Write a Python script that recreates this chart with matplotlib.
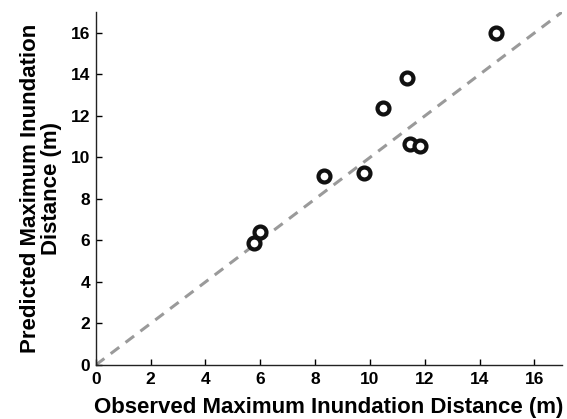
import numpy as np
import matplotlib
matplotlib.use("Agg")
import matplotlib.pyplot as plt

plt.rcParams['font.family'] = ['Liberation Sans', 'DejaVu Sans']
plt.rcParams['font.weight'] = 'bold'

# observed vs predicted inundation distance (m)
observed = [5.78, 5.98, 8.34, 9.77, 10.47, 11.35, 11.47, 11.84, 14.61]
predicted = [5.9, 6.43, 9.1, 9.25, 12.36, 13.83, 10.66, 10.53, 16.0]
ticks = [0, 2, 4, 6, 8, 10, 12, 14, 16]

fig = plt.figure(figsize=(5.67, 4.19), dpi=100)
ax = fig.add_axes([0.169, 0.129, 0.822, 0.842])

# 1:1 line
ax.plot([0, 17], [0, 17], color='#9a9a9a', linestyle=(0, (3.5, 2.6)), linewidth=2.2, zorder=1)
ax.plot(observed, predicted, linestyle='none', marker='o', markersize=8.6,
        markerfacecolor='white', markeredgecolor='#111111', markeredgewidth=3.0, zorder=2)

ax.set_xlim(0, 17)
ax.set_ylim(0, 17)
ax.set_xticks(ticks)
ax.set_yticks(ticks)
ax.tick_params(direction='in', length=4, width=1, labelsize=12.5)
ax.tick_params(axis='x', pad=5)
ax.tick_params(axis='y', pad=4)
for lab in ax.get_xticklabels() + ax.get_yticklabels():
    lab.set_fontweight('bold')
ax.spines['top'].set_visible(False)
ax.spines['right'].set_visible(False)
for s in ['left', 'bottom']:
    ax.spines[s].set_linewidth(1.0)
    ax.spines[s].set_color('#222222')

ax.set_xlabel('Observed Maximum Inundation Distance (m)', fontsize=16, fontweight='bold', labelpad=7)
ax.set_ylabel('Predicted Maximum Inundation\nDistance (m)', fontsize=16, fontweight='bold',
              labelpad=6, linespacing=1.0)

fig.savefig('out.png', dpi=100)
